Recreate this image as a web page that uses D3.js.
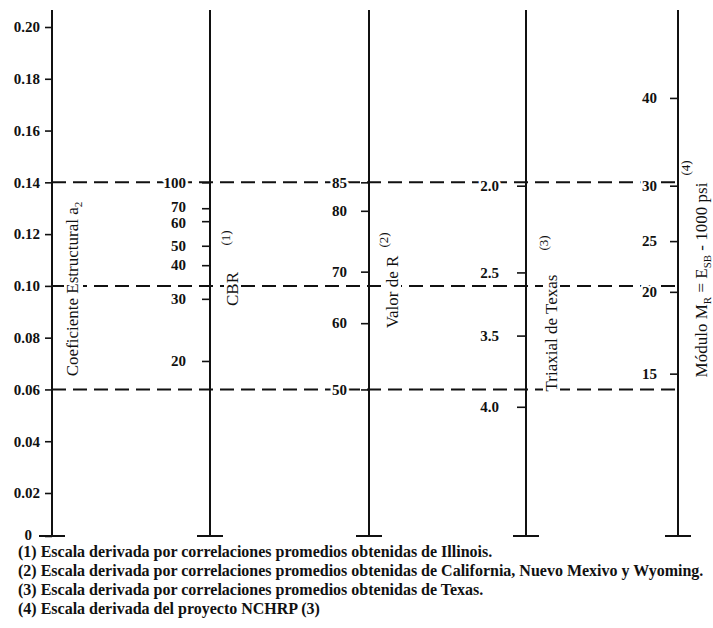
<!DOCTYPE html>
<html>
<head>
<meta charset="utf-8">
<script src="https://cdn.jsdelivr.net/npm/d3@7"></script>
<style>
  body { margin: 0; background: #fff; }
  text { font-family: "Liberation Serif", "Times New Roman", serif; fill: #111; }
</style>
</head>
<body>
<svg id="chart" width="713" height="628"></svg>
<script>
// structural coefficient a2 (main scale)
const a2Ticks = [0, 0.02, 0.04, 0.06, 0.08, 0.10, 0.12, 0.14, 0.16, 0.18, 0.20];
const guideA2 = [0.14, 0.10, 0.06];

// CBR scale, value -> a2
const cbrLabels = ["100", "70", "60", "50", "40", "30", "20"];
const cbrA2 = [0.14, 0.130, 0.125, 0.1155, 0.108, 0.095, 0.071];

// Valor de R
const rLabels = ["85", "80", "70", "60", "50"];
const rA2 = [0.14, 0.129, 0.1055, 0.0856, 0.06];

// Triaxial de Texas
const texasLabels = ["2.0", "2.5", "3.5", "4.0"];
const texasA2 = [0.1387, 0.1052, 0.0808, 0.0533];

// Modulo MR (1000 psi)
const mrLabels = ["40", "30", "25", "20", "15"];
const mrA2 = [0.1726, 0.1387, 0.1173, 0.0977, 0.0661];

const footnotes = [
  "(1) Escala derivada por correlaciones promedios obtenidas de Illinois.",
  "(2) Escala derivada por correlaciones promedios obtenidas de California, Nuevo Mexivo y Wyoming.",
  "(3) Escala derivada por correlaciones promedios obtenidas de Texas.",
  "(4) Escala derivada del proyecto NCHRP (3)"
];

const svg = d3.select("#chart");
const axisX = [52, 210, 369, 526, 678];
const topY = 10;

const y = d3.scaleLinear()
  .domain([0, 0.02, 0.2])
  .range([536, 493, 27]);

// dashed guide lines
svg.append("g")
  .selectAll("line")
  .data(guideA2)
  .join("line")
  .attr("x1", axisX[0]).attr("x2", axisX[4])
  .attr("y1", d => y(d)).attr("y2", d => y(d))
  .attr("stroke", "#111")
  .attr("stroke-width", 2)
  .attr("stroke-dasharray", "14,7");

function halo(sel) {
  sel.attr("stroke", "#fff").attr("stroke-width", 5)
    .attr("stroke-linejoin", "round").attr("paint-order", "stroke");
}

function drawScale(i, values, labels, tick, pad, withHalo) {
  const g = svg.append("g").attr("transform", `translate(${axisX[i]},0)`);
  g.call(d3.axisLeft(y)
    .tickValues(values)
    .tickFormat((d, j) => labels ? labels[j] : (d === 0 ? "0" : d3.format(".2f")(d)))
    .tickSizeInner(tick)
    .tickSizeOuter(0)
    .tickPadding(pad));
  g.select(".domain").remove();
  g.attr("font-size", 15).attr("font-weight", "bold");
  g.selectAll("line").attr("stroke", "#111").attr("stroke-width", 1.6);
  if (withHalo) halo(g.selectAll("text"));
  return g;
}

const g0 = drawScale(0, a2Ticks, null, 7, 5, false);
g0.selectAll("text").filter(d => d === 0).attr("dx", -8).attr("dy", "0.2em");
const g1 = drawScale(1, cbrA2, cbrLabels, 8, 16, true);
g1.selectAll("text").filter((d, j) => j === 1).attr("dy", "0.22em");
g1.selectAll("text").filter((d, j) => j === 2).attr("dy", "0.42em");
drawScale(2, rA2, rLabels, 8, 14, true);
drawScale(3, texasA2, texasLabels, 9, 18, true);
drawScale(4, mrA2, mrLabels, 8, 13, true);

// vertical scale lines and feet
axisX.forEach(x => {
  svg.append("line")
    .attr("x1", x).attr("x2", x)
    .attr("y1", topY).attr("y2", y(0))
    .attr("stroke", "#111").attr("stroke-width", 2);
  svg.append("line")
    .attr("x1", x - 13).attr("x2", x + 13)
    .attr("y1", y(0)).attr("y2", y(0))
    .attr("stroke", "#111").attr("stroke-width", 2);
});

// rotated titles, each on a white patch that interrupts the dashed lines
const titles = [];
function vtext(x, yy, size) {
  const g = svg.append("g").attr("transform", `translate(${x},${yy}) rotate(-90)`);
  const t = g.append("text")
    .attr("text-anchor", "middle")
    .attr("font-size", size);
  titles.push(g);
  return t;
}

const t1 = vtext(axisX[0] + 26, 289, 17);
t1.append("tspan").text("Coeficiente Estructural a");
t1.append("tspan").attr("font-size", 11).attr("dy", 4).text("2");

vtext(axisX[1] + 28, 289, 17).text("CBR");
vtext(axisX[1] + 20, 238, 13).text("(1)");

vtext(axisX[2] + 29, 292, 17).text("Valor de R");
vtext(axisX[2] + 19, 240, 13).text("(2)");

vtext(axisX[3] + 31, 333, 17).text("Triaxial de Texas");
vtext(axisX[3] + 22, 243, 13).text("(3)");

const t5 = vtext(axisX[4] + 29, 280, 17);
t5.append("tspan").text("Módulo M");
t5.append("tspan").attr("font-size", 11).attr("dy", 4).text("R");
t5.append("tspan").attr("dy", -4).text(" = E");
t5.append("tspan").attr("font-size", 11).attr("dy", 4).text("SB");
t5.append("tspan").attr("dy", -4).text(" - 1000 psi");
vtext(axisX[4] + 12, 168, 13).text("(4)");

titles.forEach(g => {
  const b = g.select("text").node().getBBox();
  g.insert("rect", "text")
    .attr("x", b.x - 3).attr("y", b.y + 1)
    .attr("width", b.width + 6).attr("height", b.height - 2)
    .attr("fill", "#fff");
});

// footnotes
svg.append("g")
  .selectAll("text")
  .data(footnotes)
  .join("text")
  .attr("x", 18)
  .attr("y", (d, i) => 557 + i * 19)
  .attr("font-size", 16)
  .attr("font-weight", "bold")
  .text(d => d);
</script>
</body>
</html>
